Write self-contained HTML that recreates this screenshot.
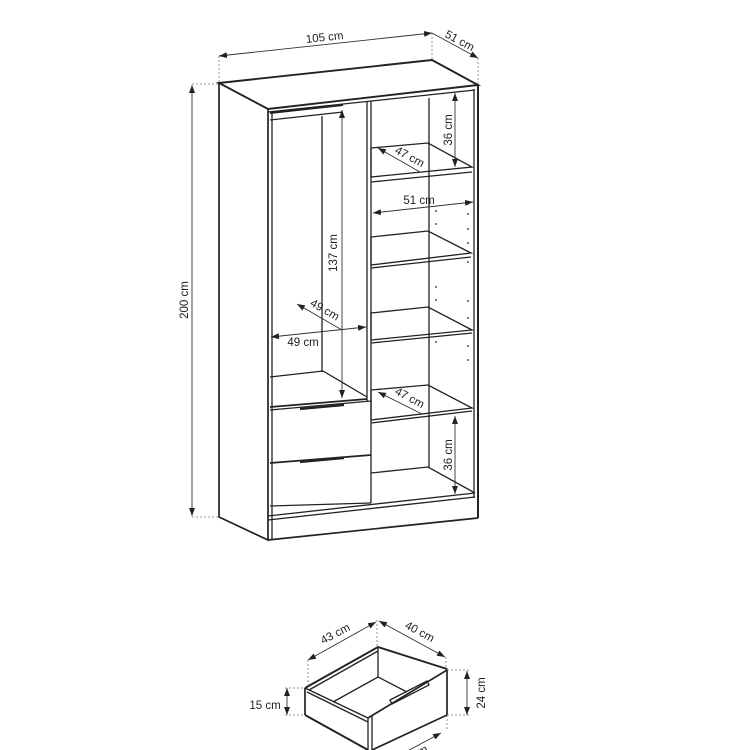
<!DOCTYPE html>
<html><head><meta charset="utf-8"><style>
html,body{margin:0;padding:0;background:#fff;}
svg{display:block;}
text{font-family:"Liberation Sans",sans-serif;font-size:11.5px;fill:#222;}
</style></head><body>
<svg width="750" height="750" viewBox="0 0 750 750" xmlns="http://www.w3.org/2000/svg">
<defs>
<marker id="a" markerWidth="8" markerHeight="6" refX="8" refY="3" orient="auto-start-reverse" markerUnits="userSpaceOnUse"><path d="M0,0 L8,3 L0,6 Z" fill="#222"/></marker>
</defs>
<g fill="none" stroke="#222" stroke-width="1.3">
<path d="M219,83 L432,60 L478,85 L268,109 Z" stroke-width="1.9"/>
<line x1="268" y1="112" x2="475" y2="90"/>
<path d="M219,83 L219,517 L268,540 L268,109" stroke-width="1.7"/>
<line x1="272" y1="111" x2="272" y2="540"/>
<line x1="478" y1="85" x2="478" y2="518" stroke-width="2"/>
<line x1="474" y1="89" x2="474" y2="498"/>
<line x1="268" y1="540" x2="478" y2="518" stroke-width="1.7"/>
<line x1="268" y1="520" x2="475" y2="497"/>
<line x1="268" y1="516" x2="475" y2="493"/>
<line x1="367" y1="101" x2="367" y2="401"/>
<line x1="371" y1="101" x2="371" y2="503"/>
<line x1="270" y1="113" x2="343" y2="105" stroke-width="1.9"/>
<line x1="270" y1="120" x2="343" y2="112"/>
<line x1="322" y1="116" x2="322" y2="372"/>
<path d="M270,377 L323,371 L367,397"/>
<line x1="270" y1="407" x2="367" y2="399" stroke-width="1.7"/>
<line x1="270" y1="410" x2="371" y2="401"/>
<line x1="270" y1="463" x2="371" y2="455" stroke-width="1.7"/>
<line x1="270" y1="506" x2="371" y2="503"/>
<line x1="300" y1="409" x2="344" y2="405" stroke-width="2.2"/>
<line x1="300" y1="462" x2="344" y2="458" stroke-width="2.2"/>
<line x1="429" y1="98" x2="429" y2="468"/>
<path d="M371,148 L428,143 L472,167 L371,177 Z"/><line x1="371" y1="182" x2="472" y2="172"/>
<path d="M371,237 L428,231 L471,253 L371,265 Z"/><line x1="371" y1="268" x2="471" y2="257"/>
<path d="M371,313 L428,307 L472,330 L371,340 Z"/><line x1="371" y1="343" x2="472" y2="333"/>
<path d="M371,390 L428,385 L472,408 L371,420 Z"/><line x1="371" y1="423" x2="472" y2="411"/>
<path d="M371,473 L428,467 L475,493"/>
</g>
<g fill="#222">
<circle cx="436" cy="211" r="0.9"/><circle cx="436" cy="224" r="0.9"/><circle cx="436" cy="287" r="0.9"/><circle cx="436" cy="300" r="0.9"/><circle cx="436" cy="342" r="0.9"/>
<circle cx="468" cy="214" r="0.9"/><circle cx="468" cy="229" r="0.9"/><circle cx="468" cy="243" r="0.9"/><circle cx="468" cy="262" r="0.9"/><circle cx="468" cy="301" r="0.9"/><circle cx="468" cy="318" r="0.9"/><circle cx="468" cy="346" r="0.9"/><circle cx="468" cy="360" r="0.9"/>
</g>
<g stroke="#333" stroke-width="0.9" fill="none">
<line x1="219" y1="56" x2="432" y2="33" marker-start="url(#a)" marker-end="url(#a)"/>
<line x1="432" y1="33" x2="478" y2="58" marker-end="url(#a)"/>
<line x1="192" y1="85" x2="192" y2="516" marker-start="url(#a)" marker-end="url(#a)"/>
<line x1="455" y1="93" x2="455" y2="167" marker-start="url(#a)" marker-end="url(#a)"/>
<line x1="378" y1="148" x2="420" y2="172" marker-start="url(#a)"/>
<line x1="373" y1="213" x2="473" y2="202" marker-start="url(#a)" marker-end="url(#a)"/>
<line x1="342" y1="110" x2="342" y2="398" marker-start="url(#a)" marker-end="url(#a)"/>
<line x1="271" y1="337" x2="366" y2="327" marker-start="url(#a)" marker-end="url(#a)"/>
<line x1="297" y1="304" x2="342" y2="330" marker-start="url(#a)"/>
<line x1="378" y1="392" x2="422" y2="414" marker-start="url(#a)"/>
<line x1="455" y1="416" x2="455" y2="494" marker-start="url(#a)" marker-end="url(#a)"/>
</g>
<g stroke="#777" stroke-width="0.8" stroke-dasharray="2,2" fill="none">
<line x1="219" y1="56" x2="219" y2="83"/><line x1="432" y1="33" x2="432" y2="60"/><line x1="478" y1="58" x2="478" y2="85"/>
<line x1="192" y1="84" x2="219" y2="84"/><line x1="192" y1="517" x2="219" y2="517"/>
</g>
<text x="325" y="41" text-anchor="middle" transform="rotate(-6 325 41)">105 cm</text>
<text x="458" y="44" text-anchor="middle" transform="rotate(28 458 44)">51 cm</text>
<text x="188" y="300" text-anchor="middle" transform="rotate(-90 188 300)">200 cm</text>
<text x="452" y="130" text-anchor="middle" transform="rotate(-90 452 130)">36 cm</text>
<text x="408" y="160" text-anchor="middle" transform="rotate(28 408 160)">47 cm</text>
<text x="419" y="204" text-anchor="middle">51 cm</text>
<text x="337" y="253" text-anchor="middle" transform="rotate(-90 337 253)">137 cm</text>
<text x="323" y="313" text-anchor="middle" transform="rotate(30 323 313)">49 cm</text>
<text x="303" y="346" text-anchor="middle">49 cm</text>
<text x="408" y="401" text-anchor="middle" transform="rotate(28 408 401)">47 cm</text>
<text x="452" y="455" text-anchor="middle" transform="rotate(-90 452 455)">36 cm</text>

<g fill="none" stroke="#222" stroke-width="1.3">
<path d="M305,688 L378,647 L447,669" stroke-width="1.9"/>
<line x1="309" y1="690" x2="378" y2="651"/>
<line x1="305" y1="688" x2="305" y2="715" stroke-width="1.7"/>
<path d="M305,688 L368,718"/>
<line x1="307" y1="692" x2="368" y2="722"/>
<path d="M305,715 L368,750" stroke-width="1.9"/>
<line x1="378" y1="648" x2="378" y2="677"/>
<path d="M333,702 L378,677 L407,692"/>
<path d="M368,718 L447,670 L447,715 L372,750" stroke-width="1.7"/>
<line x1="368" y1="718" x2="368" y2="750"/>
<line x1="372" y1="716" x2="372" y2="750"/>
<path d="M390,700 L427,681 L429,685 L392,704 Z"/>
</g>
<g stroke="#333" stroke-width="0.9" fill="none">
<line x1="308" y1="660" x2="376" y2="622" marker-start="url(#a)" marker-end="url(#a)"/>
<line x1="379" y1="621" x2="445" y2="657" marker-start="url(#a)" marker-end="url(#a)"/>
<line x1="287" y1="688" x2="287" y2="715" marker-start="url(#a)" marker-end="url(#a)"/>
<line x1="467" y1="671" x2="467" y2="715" marker-start="url(#a)" marker-end="url(#a)"/>
<line x1="400" y1="755" x2="441" y2="733" marker-end="url(#a)"/>
</g>
<g stroke="#777" stroke-width="0.8" stroke-dasharray="2,2" fill="none">
<line x1="377" y1="620" x2="377" y2="647"/><line x1="308" y1="660" x2="308" y2="687"/><line x1="446" y1="657" x2="446" y2="670"/>
<line x1="285" y1="688" x2="305" y2="688"/><line x1="285" y1="715" x2="305" y2="715"/>
<line x1="447" y1="670" x2="470" y2="670"/><line x1="447" y1="715" x2="470" y2="715"/>
<line x1="447" y1="715" x2="447" y2="730"/>
</g>
<text x="337" y="637" text-anchor="middle" transform="rotate(-28 337 637)">43 cm</text>
<text x="418" y="635" text-anchor="middle" transform="rotate(28 418 635)">40 cm</text>
<text x="265" y="709" text-anchor="middle">15 cm</text>
<text x="485" y="693" text-anchor="middle" transform="rotate(-90 485 693)">24 cm</text>
<text x="422" y="755" text-anchor="middle" transform="rotate(-28 422 755)">cm</text>
</svg>
</body></html>
